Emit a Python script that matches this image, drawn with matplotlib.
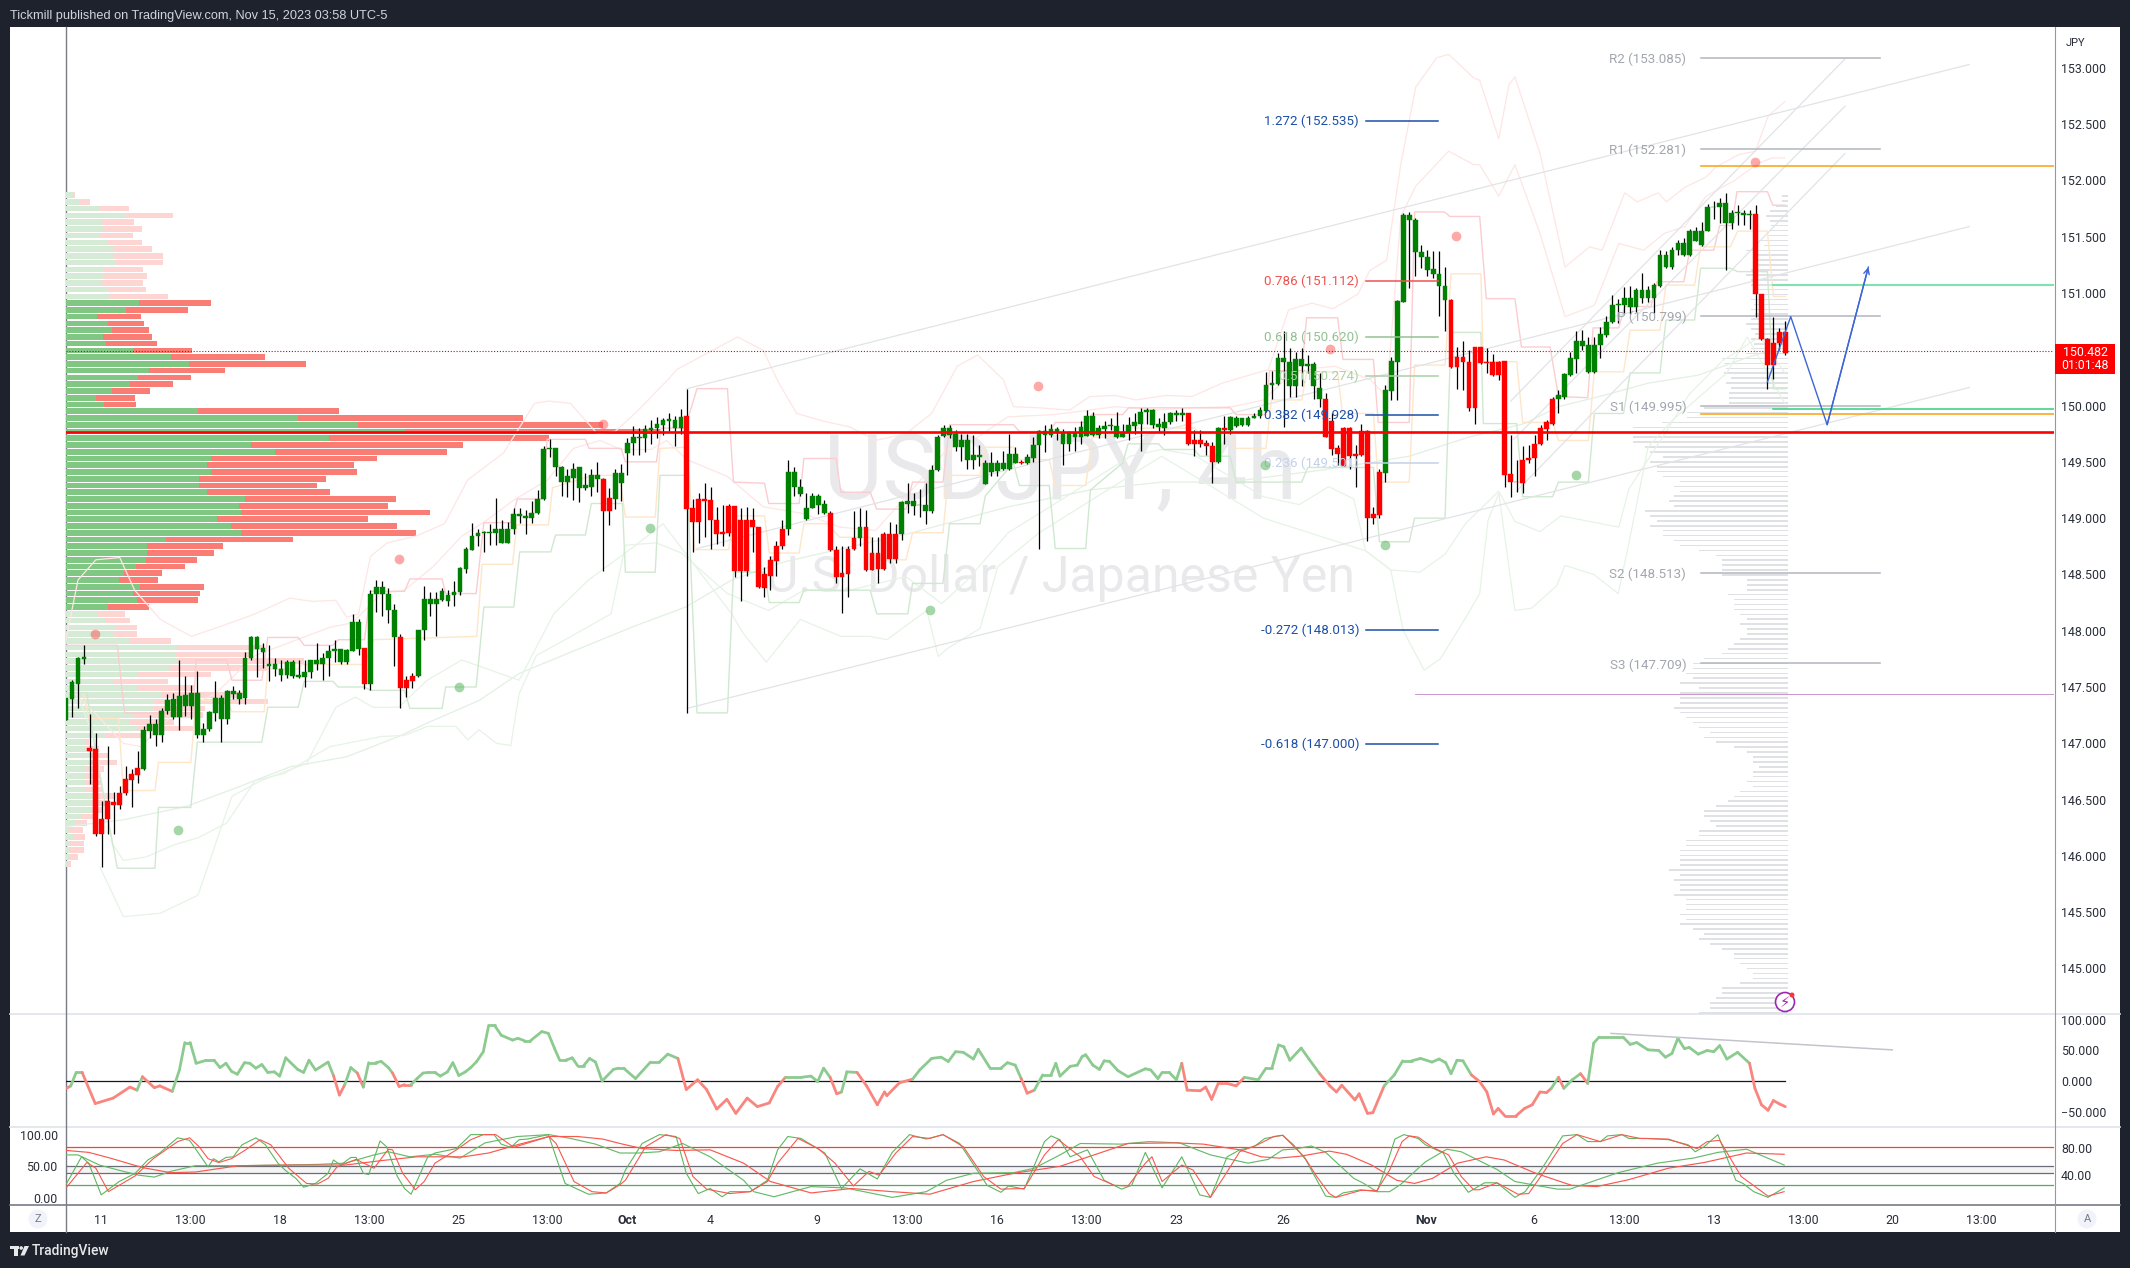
#!/usr/bin/env python3
# USDJPY 4h chart
import numpy as np
import matplotlib
matplotlib.use('Agg')
from matplotlib import pyplot as plt
from matplotlib.collections import LineCollection
from matplotlib.patches import Rectangle, Circle, Polygon

plt.rcParams['font.family'] = ['Roboto', 'DejaVu Sans']

W, H = 2130, 1268

# ---- candles (bar index 0..288)
body_top = [147.40,147.54,147.76,147.77,146.96,146.95,146.33,146.49,146.48,146.56,
146.68,146.73,146.78,147.12,147.17,147.17,147.29,147.38,147.39,147.42,
147.43,147.45,147.45,147.13,147.28,147.40,147.40,147.46,147.46,147.45,
147.76,147.94,147.94,147.85,147.70,147.70,147.66,147.72,147.72,147.61,
147.63,147.74,147.74,147.76,147.82,147.84,147.84,147.83,148.08,148.08,
147.85,148.33,148.39,148.39,148.33,148.18,147.94,147.56,147.60,148.01,
148.28,148.28,148.28,148.35,148.32,148.34,148.56,148.73,148.84,148.87,
148.88,148.88,148.90,148.90,148.90,149.04,149.04,149.02,149.05,149.17,
149.61,149.62,149.62,149.45,149.37,149.44,149.45,149.29,149.38,149.38,
149.35,149.18,149.40,149.40,149.67,149.72,149.72,149.79,149.80,149.84,
149.87,149.88,149.87,149.90,149.91,149.09,149.17,149.17,149.16,148.98,
148.88,149.11,149.11,148.98,148.98,148.98,148.92,148.50,148.63,148.75,
148.90,149.41,149.41,149.28,149.09,149.20,149.20,149.13,149.05,148.72,
148.51,148.73,148.82,148.92,148.92,148.69,148.69,148.86,148.86,148.86,
149.14,149.15,149.15,149.12,149.12,149.43,149.72,149.80,149.80,149.75,
149.69,149.69,149.56,149.56,149.49,149.49,149.49,149.49,149.57,149.57,
149.50,149.54,149.65,149.77,149.77,149.79,149.79,149.76,149.76,149.76,
149.81,149.91,149.91,149.80,149.82,149.83,149.82,149.76,149.83,149.85,
149.94,149.96,149.96,149.84,149.85,149.93,149.93,149.93,149.93,149.69,
149.69,149.67,149.64,149.80,149.80,149.90,149.89,149.89,149.89,149.91,
149.96,150.18,150.20,150.42,150.42,150.39,150.41,150.41,150.37,150.37,
150.16,150.06,149.86,149.62,149.80,149.80,149.57,149.77,149.77,149.04,
149.41,150.14,150.40,150.93,151.69,151.69,151.65,151.36,151.32,151.21,
151.17,151.06,150.94,150.43,150.43,150.39,150.52,150.52,150.39,150.39,
150.39,150.40,149.39,149.32,149.52,149.53,149.66,149.80,149.85,150.06,
150.09,150.28,150.42,150.57,150.57,150.54,150.54,150.64,150.74,150.89,
150.90,150.96,150.96,151.03,151.03,151.03,151.07,151.34,151.34,151.38,
151.44,151.44,151.55,151.55,151.55,151.76,151.76,151.80,151.80,151.71,
151.72,151.71,151.70,151.70,150.99,150.59,150.56,150.65,150.65]

body_bot = [147.21,147.39,147.53,147.75,146.93,146.19,146.19,146.33,146.45,146.45,
146.56,146.67,146.72,146.77,147.11,147.07,147.07,147.29,147.23,147.23,
147.33,147.33,147.07,147.07,147.13,147.27,147.22,147.22,147.44,147.39,
147.40,147.76,147.84,147.81,147.69,147.66,147.61,147.61,147.60,147.59,
147.59,147.63,147.70,147.70,147.76,147.82,147.72,147.72,147.82,147.84,
147.53,147.53,148.33,148.33,148.18,147.94,147.49,147.49,147.55,147.60,
148.01,148.24,148.24,148.27,148.26,148.32,148.34,148.55,148.72,148.84,
148.87,148.87,148.87,148.78,148.78,148.90,149.02,149.00,149.00,149.05,
149.17,149.61,149.45,149.32,149.32,149.36,149.27,149.27,149.28,149.35,
149.06,149.06,149.17,149.31,149.58,149.67,149.71,149.71,149.78,149.80,
149.83,149.86,149.80,149.80,149.08,148.97,148.97,149.15,148.98,148.86,
148.86,148.87,148.53,148.53,148.53,148.92,148.39,148.38,148.49,148.62,
148.75,148.90,149.28,149.21,148.99,149.09,149.12,149.05,148.72,148.48,
148.48,148.50,148.73,148.82,148.54,148.54,148.55,148.55,148.64,148.64,
148.86,149.13,149.11,149.12,149.06,149.06,149.43,149.73,149.74,149.63,
149.63,149.52,149.52,149.54,149.30,149.41,149.42,149.44,149.44,149.49,
149.49,149.49,149.53,149.65,149.74,149.74,149.76,149.66,149.66,149.72,
149.72,149.73,149.74,149.74,149.79,149.82,149.72,149.72,149.76,149.82,
149.84,149.94,149.83,149.81,149.80,149.85,149.92,149.92,149.66,149.66,
149.66,149.64,149.50,149.50,149.78,149.78,149.82,149.83,149.83,149.89,
149.91,149.95,150.18,150.19,150.39,150.17,150.17,150.35,150.35,150.17,
150.06,149.72,149.61,149.57,149.46,149.55,149.55,149.56,149.00,149.00,
149.03,149.40,150.13,150.39,150.92,151.65,151.36,151.32,151.20,151.17,
151.06,150.94,150.34,150.34,150.39,149.98,149.98,150.38,150.38,150.27,
150.27,149.38,149.32,149.32,149.31,149.52,149.53,149.66,149.79,149.84,
150.06,150.08,150.27,150.41,150.53,150.30,150.30,150.54,150.63,150.74,
150.89,150.89,150.88,150.88,150.96,150.96,150.96,151.06,151.23,151.23,
151.38,151.34,151.34,151.46,151.43,151.55,151.76,151.76,151.62,151.62,
151.71,151.69,151.69,150.99,150.59,150.36,150.36,150.56,150.47]

bar_high = [147.40,147.56,147.77,147.87,147.26,147.09,146.49,146.98,146.57,146.62,
146.80,146.77,146.93,147.15,147.25,147.22,147.31,147.44,147.45,147.74,
147.60,147.52,147.64,147.18,147.29,147.55,147.43,147.47,147.51,147.47,
147.81,147.95,147.95,147.89,147.87,147.76,147.74,147.74,147.74,147.74,
147.74,147.74,147.89,147.80,147.87,147.92,147.84,147.84,148.15,148.10,
147.85,148.36,148.45,148.44,148.38,148.24,147.97,147.60,147.62,148.01,
148.40,148.34,148.34,148.38,148.36,148.44,148.57,148.74,148.96,148.90,
148.89,148.95,149.18,148.98,148.97,149.09,149.09,149.07,149.15,149.25,
149.64,149.70,149.62,149.46,149.44,149.49,149.45,149.40,149.44,149.50,
149.36,149.27,149.44,149.48,149.71,149.82,149.80,149.83,149.87,149.90,
149.89,149.93,149.91,149.97,150.15,149.17,149.22,149.31,149.28,149.10,
149.12,149.13,149.11,149.09,149.10,149.09,148.92,148.57,148.66,148.80,
148.98,149.52,149.45,149.35,149.22,149.22,149.21,149.16,149.06,148.75,
148.75,148.75,149.06,149.09,149.07,148.83,148.83,148.88,148.97,148.95,
149.15,149.31,149.22,149.26,149.31,149.47,149.74,149.83,149.83,149.78,
149.75,149.75,149.74,149.65,149.52,149.59,149.52,149.60,149.75,149.63,
149.52,149.57,149.72,149.78,149.83,149.84,149.81,149.79,149.77,149.81,
149.86,149.96,149.94,149.83,149.86,149.89,149.94,149.84,149.90,149.93,
149.98,149.98,149.97,149.89,149.93,149.94,149.96,149.98,149.93,149.78,
149.78,149.69,149.68,149.81,149.91,149.91,149.91,149.89,149.91,149.93,
149.99,150.30,150.31,150.47,150.66,150.51,150.48,150.51,150.45,150.39,
150.29,150.11,149.93,149.65,149.81,149.81,149.65,149.84,149.78,149.10,
149.44,150.18,150.43,150.94,151.71,151.72,151.67,151.43,151.38,151.37,
151.37,151.23,150.95,150.52,150.57,150.49,150.52,150.52,150.51,150.46,
150.40,150.40,149.74,149.52,149.64,149.65,149.74,149.83,149.87,150.08,
150.14,150.29,150.48,150.66,150.67,150.61,150.61,150.70,150.80,150.98,
150.95,151.05,151.06,151.04,151.18,151.06,151.09,151.38,151.37,151.41,
151.47,151.49,151.57,151.59,151.63,151.79,151.82,151.84,151.89,151.74,
151.78,151.74,151.74,151.78,150.99,150.60,150.79,150.69,150.75]

bar_low = [147.21,147.23,147.31,147.70,146.64,146.18,145.90,146.19,146.19,146.42,
146.54,146.43,146.65,146.76,147.05,146.98,147.01,147.26,147.22,147.12,
147.24,147.22,147.05,147.01,147.11,147.20,147.01,147.17,147.39,147.35,
147.35,147.74,147.59,147.67,147.55,147.60,147.55,147.58,147.58,147.58,
147.50,147.58,147.65,147.56,147.60,147.72,147.70,147.70,147.82,147.78,
147.48,147.47,148.17,148.13,148.07,147.69,147.31,147.41,147.49,147.59,
147.92,148.13,147.95,148.26,148.22,148.22,148.32,148.51,148.72,148.75,
148.70,148.76,148.76,148.78,148.78,148.86,148.96,148.86,148.96,149.04,
149.16,149.54,149.37,149.20,149.19,149.16,149.14,149.25,149.20,149.23,
148.53,148.94,149.08,149.15,149.38,149.56,149.56,149.59,149.66,149.71,
149.74,149.77,149.64,149.75,147.27,148.70,148.78,148.83,148.73,148.77,
148.75,148.84,148.48,148.26,148.49,148.70,148.38,148.30,148.36,148.49,
148.73,148.85,149.20,149.20,148.98,149.09,149.04,149.04,148.71,148.42,
148.16,148.30,148.72,148.75,148.53,148.54,148.42,148.54,148.60,148.60,
148.81,149.05,149.03,149.01,148.95,149.05,149.42,149.72,149.71,149.60,
149.51,149.44,149.44,149.46,149.30,149.37,149.37,149.43,149.43,149.49,
149.48,149.48,149.50,148.73,149.59,149.72,149.69,149.47,149.60,149.60,
149.66,149.73,149.73,149.71,149.71,149.78,149.71,149.72,149.69,149.75,
149.60,149.84,149.80,149.77,149.74,149.84,149.86,149.86,149.65,149.55,
149.63,149.56,149.31,149.49,149.66,149.75,149.81,149.82,149.82,149.89,
149.89,149.94,150.06,150.18,149.81,150.08,150.08,150.17,150.29,150.06,
149.99,149.72,149.56,149.47,149.46,149.44,149.28,149.55,148.80,148.95,
149.00,149.32,150.05,150.05,150.92,151.04,151.15,151.22,151.15,151.13,
150.80,150.66,150.33,150.15,150.14,149.95,149.84,150.37,150.29,150.26,
150.23,149.28,149.19,149.23,149.22,149.49,149.37,149.65,149.69,149.83,
149.93,150.06,150.26,150.29,150.49,150.29,150.29,150.42,150.61,150.73,
150.73,150.82,150.81,150.83,150.91,150.92,150.82,151.05,151.22,151.21,
151.34,151.33,151.33,151.46,151.42,151.55,151.66,151.62,151.20,151.57,
151.60,151.60,151.57,150.79,150.58,150.15,150.24,150.49,150.45]

bar_color = 'g'*4 + 'r'*9 + 'g'*37 + 'r' + 'g'*5 + 'r'*3 + 'g'*31 + 'r'*2 + 'g'*12 \
    + 'r'*17 + 'g'*7 + 'r'*5 + 'g' + 'r'*6 + 'g'*20 + 'r' + 'g'*27 + 'r'*5 + 'g' + 'r' + 'g'*16 \
    + 'r'*10 + 'g'*11 + 'r'*18 + 'g'*33 + 'r'*6

last_price = 150.482

# ---- left volume profile, top row first
vp_buy = [15,30,76,132,80,84,76,92,107,105,110,86,84,79,95,97,
163,135,69,93,103,83,89,151,235,275,187,161,143,103,67,85,295,519,654,759,589,415,469,325,
315,325,297,299,315,401,387,393,339,369,391,223,181,181,179,157,129,119,165,149,159,95,
72,87,113,107,141,250,247,252,230,162,105,162,212,197,197,152,142,162,87,42,42,52,57,42,
42,42,42,62,57,57,34,22,10,15,10,10,7,2]
vp_sell = [5,24,65,108,72,86,74,78,85,112,107,86,97,93,84,131,
162,138,99,82,83,109,115,131,211,262,169,119,97,85,87,72,316,505,548,573,493,474,384,371,
330,327,285,263,276,338,334,422,337,372,393,285,171,150,114,109,86,87,144,151,137,91,
60,56,46,52,94,192,165,282,222,163,123,127,180,255,115,155,100,125,80,10,32,45,57,43,
35,38,38,45,35,25,26,25,27,27,30,30,20,10]
vp_dark_rows = (16, 62)

# ---- right session volume profile, top row first
rvp_width = [6,6,12,18,22,18,17,19,19,29,24,42,32,34,34,37,42,37,37,32,29,37,34,37,33,37,42,37,33,37,
34,37,42,66,64,62,64,57,62,57,59,59,59,84,101,101,
126,155,167,155,155,143,138,125,138,131,131,125,108,114,108,114,119,114,143,138,131,138,125,125,114,108,
89,72,66,66,66,66,41,41,41,60,54,54,54,48,41,48,41,41,48,54,60,66,84,95,95,102,95,108,89,108,108,108,
114,108,102,95,89,78,84,72,54,41,35,35,29,35,35,41,35,48,54,60,72,84,84,78,72,89,89,102,102,108,108,108,
108,119,108,114,108,108,114,102,102,102,108,102,108,95,84,89,78,66,54,54,48,41,35,35,48,66,66,72,78,78,89,102]

# ---- stepped channel lines
upper_i = [0,8.6,9.8,21.3,21.8,26.9,27.8,32.8,33.8,38.9,39.9,44.7,45.6,50,51,56.7,57.6,63,63.6,68.7,70,74.5,75.6,79.8,80.6,87,87.6,
93,93.7,98.9,99.7,103.7,105.7,110.8,111.8,117,117.7,122.8,123.6,129,129.8,134.7,135.8,140.7,141.8,146.9,148,158.7,159.7,164.8,165.7,170.8,171.8,177,178,
195,196,201,201.6,207,207.8,213,213.9,219,219.8,225,225.9,230.9,231.8,236.8,237.9,242.7,243.8,248.6,250,254.9,255.8,260.1,261.1,265.5,266.5,271,272,276,277,279,279.9,285,285.9,287.9]
upper_p = [147.87,147.87,147.27,147.27,147.74,147.74,147.56,147.56,147.94,147.94,147.87,147.87,147.92,147.92,148.35,148.35,148.46,148.46,148.33,148.33,148.96,148.96,149.17,149.17,149.70,149.70,149.62,
149.62,149.50,149.50,149.80,149.80,150.15,150.15,149.32,149.31,149.13,149.13,149.53,149.53,149.23,149.23,149.08,149.08,149.32,149.32,149.83,149.83,149.77,149.77,149.85,149.85,149.92,149.92,149.98,
149.98,149.92,149.92,150.31,150.31,150.78,150.78,150.41,150.41,149.85,149.85,151.72,151.72,151.68,151.68,150.95,150.95,150.52,150.52,150.08,150.07,150.69,150.69,150.88,150.88,151.10,151.10,151.38,151.38,151.60,151.60,151.90,151.90,151.78,151.78]

mid_i = [0,2.9,3.8,8.8,9.6,14.9,15.5,20.9,21.8,27,27.8,33.2,33.8,38.9,39.5,50,51.5,68.8,69.7,74.8,75.5,80.8,81.5,88.3,92.7,93.7,98.7,99.5,
104,105.3,111,111.8,117,117.8,122.8,123.6,127.5,129.6,134.7,135.6,140.7,141.8,146.9,147.8,153.1,154,158.7,159.7,164.7,165.7,170.8,171.9,177,177.9,189,189.9,195,195.9,201,201.9,207,207.8,213,213.8,219,219.8,225,225.9,231,232,237,237.4,243,244,249,250,255,256,260.9,262,267,268,272.8,273.8,278.8,280,285,286,288]
mid_p = [147.45,147.45,147.22,147.22,146.58,146.58,146.83,146.83,147.38,147.38,147.28,147.28,147.66,147.66,147.70,147.70,147.92,147.95,148.59,148.59,148.94,148.94,149.27,149.38,149.38,149.01,149.01,149.62,
149.63,148.72,148.72,149.02,149.02,148.69,148.69,148.95,148.95,148.83,148.83,148.63,148.63,148.87,148.87,149.38,149.38,149.63,149.63,149.52,149.52,149.29,149.29,149.72,149.72,149.80,149.80,149.75,149.75,149.62,149.62,150.05,150.05,150.30,150.30,149.93,149.93,149.32,149.32,150.36,150.36,151.17,151.17,150.39,150.39,149.85,149.85,149.69,149.69,150.30,150.30,150.67,150.67,151.07,151.07,151.41,151.41,151.55,151.55,150.97,150.97]

lower_i = [0,3.5,5,8.6,14.9,15.5,20.9,22,32.8,33.8,38.9,39.9,44.7,45.6,50,51,56.7,57.6,63,63.6,68.7,70,75,76,81.2,82,87,88,93.2,93.7,98.7,99.5,104,105.7,110.8,111.8,117,117.8,122.8,123.6,134.7,135.8,141,141.8,146.9,148,153.1,154,158.7,159.7,164.7,165.7,170.8,171.6,177,177.9,183,183.9,189,189.9,195,196,201,202,207,208,213,214,219,220,225,225.9,231,232,237,237.4,243,244,249,250,255,256,260.9,262,267,268,272.8,273.8,278.8,280,285,286,288]
lower_p = [147.45,147.45,146.90,145.89,145.89,146.43,146.43,147.01,147.01,147.32,147.32,147.55,147.55,147.50,147.50,147.47,147.47,147.31,147.31,147.50,147.50,148.21,148.21,148.70,148.70,148.85,148.85,149.13,149.13,148.52,148.52,149.38,149.38,147.27,147.27,148.52,148.52,148.25,148.25,148.36,148.36,148.15,148.15,148.42,148.42,148.95,148.95,149.20,149.49,149.29,149.29,148.73,148.73,149.25,149.49,149.66,149.66,149.61,149.61,149.55,149.55,149.32,149.32,149.32,149.32,149.45,149.45,149.45,149.45,148.79,148.79,149.00,149.00,150.65,150.65,149.84,149.84,149.19,149.19,149.32,149.32,149.93,149.93,150.29,150.29,150.76,150.76,151.22,151.22,151.19,151.19,150.15,150.15]

# ---- faint envelopes
pink_outer_i = [0,2,5,9,11.5,15.8,21,26,31.7,37.5,41.3,45.2,47,49,51,53.8,58.6,63.4,67.3,73.3,78.5,80.8,84.5,89,92,95.7,101,102.3,112.5,116.8,119.4,122.4,127,131.3,135.6,140.7,145,149.3,152.7,157,158.7,163,168.1,171.5,175.8,179.2,184.3,188.6,193.7,201.4,204.8,208.7,212.2,216.4,218.4,221.2,223.6,226.1,229.6,231.6,235.8,236.8,240,241.7,242.7,246.9,251.1,255.2,257.3,261.1,263.2,266.7,268.1,271.2,274.7,276.4,280.2,283,285.1,287.9]
pink_outer_p = [147.92,148.45,148.63,148.65,148.36,148.10,147.95,148.04,148.15,148.29,148.26,148.27,148.12,148.15,148.66,148.78,148.84,148.95,149.34,149.58,150.02,150.04,150.02,149.75,149.77,149.95,150.24,150.32,150.61,150.49,150.20,149.93,149.86,149.81,149.69,149.75,149.93,150.35,150.45,150.23,149.99,149.98,149.96,150.08,150.09,150.05,150.09,150.08,150.20,150.32,150.85,150.91,150.86,150.99,151.20,151.29,152.15,152.83,153.09,153.12,152.91,152.89,152.37,152.85,152.92,152.24,151.23,151.41,151.38,151.89,151.81,151.89,151.81,151.94,152.03,152.12,152.23,152.26,152.57,152.70]

pink_inner_i = [1.4,4.8,9.6,12.5,18.2,25,31.7,44.2,48,52.8,56.7,61.5,66.3,70.2,75,80.7,85,89.5,92.9,98,100.6,104,110.8,116.8,123.6,129.6,135.6,140.7,147.6,152.7,157.8,165.5,171.5,175.8,182.6,188.6,195.4,200.6,204.8,209.1,212.5,218.5,221.2,223.6,226.1,231.6,235.8,236.8,240,242.7,246.9,251.1,256,260.1,264.3,267.7,271.2,274.7,279.5,283.4,285.8,287.9]
pink_inner_p = [147.44,147.27,147.00,146.97,147.27,147.44,147.78,148.03,148.07,148.33,148.36,148.57,148.84,148.97,149.16,149.34,149.62,149.69,149.61,149.61,149.69,149.52,149.37,149.10,149.04,148.92,148.89,149.19,149.61,149.72,149.90,149.92,149.96,149.99,149.96,149.98,149.99,150.05,150.26,150.33,150.35,150.23,150.08,151.68,151.95,152.26,152.14,152.14,151.86,152.14,151.53,150.79,150.89,151.44,151.38,151.53,151.59,151.86,152.00,152.15,152.20,152.20]

green_ma_i = [0,9.6,20.2,28.8,37.5,47,55.7,60.5,69.2,75.9,85.5,95.2,103.8,111.5,120.2,131.7,140.3,157.8,171.5,183.5,194.6,210.8,225,235,244.3,250,256.8,265.1,273.4,281.8,286.8]
green_ma_p = [146.26,146.32,146.44,146.61,146.79,146.88,147.06,147.18,147.38,147.62,147.83,148.04,148.21,148.45,148.61,148.75,148.85,149.10,149.25,149.32,149.32,149.43,149.55,149.72,149.84,149.99,150.08,150.20,150.27,150.43,150.51]

green_inner_i = [1.9,4.8,7.7,9.6,13.4,18.2,22.1,26.9,31.7,36.5,44.2,52.8,56.7,60.5,65.3,67.3,69.2,72.1,74.5,75.9,78.8,83.6,91.3,93.7,98.9,103.1,110.8,117.7,123.6,130.5,140.7,146.7,151,157.8,163,178.3,183.5,189,200.6,206.6,211.5,215.7,217.7,221.9,226.8,231,234.4,240,242.7,246.9,250.4,260.1,261.8,267.7,271.9,277.5,283.7,287.9]
green_inner_p = [147.44,147.03,146.11,145.96,145.99,146.10,146.16,146.29,146.67,146.73,146.97,147.06,147.07,147.15,147.15,147.03,147.12,147.00,146.98,147.44,147.78,147.92,148.15,148.76,148.78,148.69,148.33,148.18,148.36,148.35,148.48,148.24,148.45,148.87,149.04,149.55,149.61,149.56,149.19,149.12,149.28,149.17,148.71,148.54,148.52,148.68,148.95,149.24,148.97,148.88,149.02,148.92,149.26,149.74,150.10,150.40,150.61,150.29]

green_outer_i = [5.7,9.6,15.8,22.1,27.8,32.7,40.3,45.2,48.5,51.4,55.7,60.5,66.3,75.9,81.7,87.5,95.2,100,111.5,113.4,117.3,123,129.8,134.6,137.5,144.2,146.1,147.6,153.1,156.1,163,183.5,200.6,217.7,221.9,224,227.5,230.2,234.4,236.8,238.2,240,242.7,245.5,249.7,251.1,255.9,260,261.8,265,269.1,278.2,281.6,287.9]
green_outer_p = [145.90,145.46,145.49,145.65,146.53,146.67,146.82,147.32,147.41,147.32,147.32,147.56,147.74,147.56,148.15,148.45,148.75,148.95,148.15,147.98,147.72,148.10,147.95,147.95,147.92,148.18,147.77,147.84,148.02,148.57,148.87,149.55,149.00,148.71,148.54,148.00,147.65,147.75,148.11,148.33,148.98,149.22,148.18,148.20,148.40,148.58,148.50,148.33,148.78,149.63,149.87,150.29,150.61,150.02]

# ---- drawn levels
fib_labels = ['1.272 (152.535)','0.786 (151.112)','0.618 (150.620)','0.5 (150.274)','0.382 (149.928)','0.236 (149.501)','-0.272 (148.013)','-0.618 (147.000)']
fib_prices = [152.535,151.112,150.620,150.274,149.928,149.501,148.013,147.000]
fib_colors = ['#1c4fa8','#f0524f','#93c193','#a8d2a4','#1c4fa8','#c3d1ea','#1c4fa8','#1c4fa8']
pivot_labels = ['R2 (153.085)','R1 (152.281)','P (150.799)','S1 (149.995)','S2 (148.513)','S3 (147.709)']
pivot_prices = [153.085,152.281,150.799,149.995,148.513,147.709]

red_dots_i = [4.8,55.7,89.9,162.8,211.8,232.8,282.9]
red_dots_p = [147.97,148.64,149.84,150.17,150.50,151.51,152.16]
green_dots_i = [18.7,65.8,97.8,144.8,200.8,220.9,253]
green_dots_p = [146.23,147.50,148.91,148.18,149.47,148.76,149.38]

path_i = [285,288.9,295,301.9]
path_p = [150.21,150.79,149.83,151.23]

# ---- oscillator
cci_i = [0.1,0.8,1.7,2.7,4.9,7.9,10.7,11.9,12.8,14.8,15.7,17.8,19,19.9,20.8,21.8,23.5,24.8,25.8,26.8,27.7,28.7,29.9,30.8,31.8,32.8,33.8,34.9,35.8,36.8,38.8,39.8,40.7,41.8,43.9,44.8,45.8,46.7,47.7,48.8,49.8,50.7,51.9,52.8,54,54.7,55.8,56.7,57.8,58.8,59.8,60.7,61.8,62.7,63.9,64.8,65.8,66.9,67.8,68.8,69.9,70.8,71.8,72.9,74.8,75.7,76.8,77.8,79.7,80.8,81.8,82.7,83.7,84.8,85.7,86.7,87.7,88.7,89.8,91.7,92.5,93.4,95.4,97.9,99.4,100.8,102.5,103.9,105.8,107.3,109,110.7,112.2,114.1,115.8,117.8,119.2,120.5,123.1,124.8,125.9,126.9,128,129.1,129.9,130.8,132.5,134.1,135.9,137.1,137.5,139.6,141.8,143,145,146.6,147.8,149,150.3,152,152.8,154.8,156.6,157.7,159,160,161,162.2,163.6,165,165.8,166.5,168.2,169.4,170.2,170.8,172,173.1,173.9,174.8,176.2,177.9,180.8,181.7,182.9,183.6,184.8,186,186.9,187.8,190,190.9,191.9,193,194.5,196,197.4,199.7,201,202,203.1,204,205,206.9,208.2,210,211.7,212.8,213.7,215.9,216.6,218,218.9,220.8,222.5,223.9,225.4,226.9,228.8,230,231.1,232,233,234,235.4,236.8,238,239.1,239.9,241,242.9,244.3,245.6,246.9,248,248.8,250,250.9,252.3,253.7,254.9,255.9,256.8,260.8,262,263.1,265,266.8,267.9,269,270,271.1,271.9,273.4,274.9,276,277,278.2,280,282,282.9,284,285.1,286,287.1,288]
cci_v = [-12,-8,14,14,-37,-28,-10,-15,7,-11,-8,-17,18,63,63,29,34,34,22,29,16,11,30,29,21,27,14,15,8,38,19,14,34,18,31,9,-23,-6,22,13,-10,30,30,32,22,13,-9,-6,-6,4,13,14,14,8,15,30,9,15,22,32,48,91,91,75,67,70,66,66,81,78,54,34,34,38,25,25,37,31,0,19,21,21,4,31,31,44,37,-14,2,-14,-46,-30,-53,-28,-42,-36,-9,6,6,8,-1,21,6,-21,-18,15,14,-8,-39,-18,-24,-3,3,18,37,39,32,48,47,36,52,21,21,30,26,4,-20,-15,10,10,29,8,24,26,40,43,26,19,33,32,17,7,20,18,4,14,14,2,29,-15,-16,-10,-30,-4,-4,-8,6,2,21,21,59,56,34,54,36,12,-8,-18,-7,-31,-21,-53,-52,-8,10,33,33,37,31,36,30,12,34,33,10,-1,-18,-54,-45,-57,-57,-45,-39,-18,-19,-12,6,-12,2,12,-4,62,72,72,60,63,51,50,39,45,70,53,55,44,50,48,58,36,47,29,-12,-39,-48,-32,-38,-42]
cci_red_spans = [(0,0.8),(2.7,11.9),(12.8,17.8),(44.8,46.7),(48.8,49.8),(54.7,57.8),(102.5,120.5),(128,129.9),(132.5,141.8),(160,162.2),(186.9,197.4),(210,220.8),(235.4,248.8),(250,250.9),(253.7,254.9),(282,288.5)]

# ---- stochastics
stk_k_i = [0.1,2.6,3.8,5.9,8.9,11.6,13.7,15.7,18.7,20.7,23.8,24.7,25.6,26.8,28,29.5,31.8,33.4,35.5,36.7,38.5,39.8,41.8,43.9,44.8,46,47.7,48.6,49.8,50.7,52.6,53.7,55.5,56.7,57.8,60.6,61.8,65.4,67.8,71.7,72.9,74.5,75.9,77.3,80.8,83.6,87.5,90.5,92.8,93.7,96.5,99.4,102.2,103.9,105.9,107.9,109.9,111.2,114.6,117.5,119.2,120.9,123.1,127.1,129.9,133,135.9,138.4,141.3,144.1,146.9,149.7,154.3,156.6,157.9,160.5,163.9,165,166.5,168.2,171.1,173.9,176.8,178.5,180.8,183.6,186.9,189.9,191.7,194.5,196.6,199,200.8,203.8,205.6,207.7,208.9,211,212.7,213.9,216.9,219.6,221.1,222.6,224.1,226.5,227.7,230.7,232.5,234.9,237.6,239.7,242.7,244.4,247.4,250.7,253.1,254.9,257,258.2,260.6,261.8,264.8,268.4,271.7,272.9,274.4,276.7,279.7,280.9,282.7,285.1,287.8]
stk_k_v = [23,65,55,5,26,39,60,71,95,91,49,62,57,64,65,84,95,84,55,44,31,17,23,39,60,52,64,64,39,37,90,81,34,15,6,65,71,78,100,100,85,80,92,93,100,23,6,8,23,44,86,100,97,39,7,15,2,10,10,28,76,97,94,71,15,46,30,72,100,93,100,86,20,9,19,14,89,98,92,65,76,28,14,20,72,16,65,5,1,65,76,81,94,99,84,60,39,3,1,8,13,10,49,93,100,94,84,71,39,9,24,24,1,10,49,98,100,89,89,98,100,94,94,92,84,73,81,100,28,23,10,1,16]
stk_d_i = [0.1,3.5,5,7.1,11.6,14.6,18.7,20.7,22.3,23.8,25.6,27.7,30.1,32.5,34.3,37.3,40.3,42.1,43.9,45.4,48.6,51.6,54,54.7,56.4,58.5,60,61.8,65.4,67.8,69.9,72,75,80.9,82.1,85.1,88.1,90.5,92.8,93.7,97.1,100.5,102.8,105,107.3,111.2,114.6,117.5,119.2,122.6,126,128.8,131.9,134.5,136.2,139,141.8,144.7,146.9,150.3,153.7,156.6,160.5,163.9,166.2,169.9,172.2,175.6,177.9,180.8,181.9,183.6,186.9,188.8,191.7,194,196.6,199.6,202.3,203.8,207.4,209.5,211.6,212.7,216.9,219.6,221.7,223.8,225,226.5,228.9,231.6,233.7,235.8,236.7,239.7,243.2,245,247.4,250.7,253.1,257,260.6,263.6,268.4,273.2,274.9,277,280.6,285.1,287.8]
stk_d_v = [17,56,47,10,35,62,89,95,81,62,56,62,76,92,84,47,23,22,31,49,61,47,77,76,39,13,26,55,76,92,100,100,80,97,86,26,10,8,21,28,81,100,94,34,14,7,10,26,55,94,78,55,19,42,36,71,97,94,100,81,34,14,15,68,92,65,34,20,19,55,65,26,52,44,1,34,73,84,97,99,65,34,7,1,12,12,44,89,98,96,80,68,34,13,13,24,6,7,39,86,100,89,100,94,93,78,89,91,34,3,10]
stk_slow_g_i = [0.1,2,5.6,9.2,12.2,14.8,17.5,21.7,28.9,36.1,42.1,46.8,51.6,54,57.6,61.8,66,70.2,75.6,80.9,84.5,88.7,92.8,96,99.4,103.3,107.9,113.5,115.2,118.6,124.8,130.5,138.4,144.1,147.5,152,158.8,162.2,166.5,169.9,176.8,181.4,186.5,191.7,198,201.4,203.8,205.6,208.6,211,215.7,217.2,219.6,221.7,223.5,227.7,231.3,233.7,239.7,242.7,247.4,249.8,251.9,260,266.6,272.6,276.7,281.5,287.8]
stk_slow_g_v = [68,68,52,43,36,33,42,51,51,52,53,55,68,73,65,69,63,87,97,100,94,85,71,71,73,86,65,28,10,2,18,16,1,10,28,39,40,47,68,86,85,89,87,68,55,61,76,77,82,72,31,24,10,10,21,57,77,73,45,26,18,14,14,40,55,63,72,77,52]
stk_slow_r_i = [0.1,3.8,7.4,12.8,17.5,21.7,28.9,37.9,46.8,52.8,58.8,66.6,70.8,75.6,80.9,85.7,89.9,92.8,96.5,102.2,107.9,113.5,118,124.8,131.6,138.4,144.7,152,158.8,166.5,172.2,177.9,185.9,190.5,196.6,200.2,203.2,206.8,211.6,214.5,218.7,222.9,225.9,228.9,233.1,237.9,240.9,246.2,252.2,256.4,261.8,268.4,274.4,281.5,287.8]
stk_slow_r_v = [75,72,63,48,40,41,51,52,52,59,65,65,71,84,97,97,93,86,78,75,76,55,26,8,15,10,6,26,39,50,68,86,87,85,76,65,63,66,74,69,52,28,23,31,55,65,60,39,20,18,29,47,56,71,69]
cci_trend_i = [258.8,305.9]
cci_trend_v = [78,51]

tick_pos = [5.8,20.8,35.8,50.8,65.8,80.7,94,107.9,125.8,140.9,155.9,170.9,185.9,203.9,227.9,245.8,261,276,291,305.9,320.9]
tick_lab = ['11','13:00','18','13:00','25','13:00','Oct','4','9','13:00','16','13:00','23','26','Nov','6','13:00','13','13:00','20','13:00']
price_ticks = [153,152.5,152,151.5,151,150,149.5,149,148.5,148,147.5,147,146.5,146,145.5,145]

DARK = '#1e222d'
TXT = '#2a2e39'


def new_ax(x0, y0, x1, y1, **kw):
    a = fig.add_axes([x0/W, 1-y1/H, (x1-x0)/W, (y1-y0)/H], **kw)
    a.patch.set_alpha(0)
    for s in a.spines.values():
        s.set_visible(False)
    return a


fig = plt.figure(figsize=(W/100, H/100), dpi=100, facecolor=DARK)

# page chrome, in pixels
bg = fig.add_axes([0, 0, 1, 1], zorder=0)
bg.set_xlim(0, W)
bg.set_ylim(H, 0)
bg.axis('off')
bg.add_patch(Rectangle((10, 27), 2110, 1205, fc='white', ec='none'))
for yy in (1014, 1126.7):
    bg.plot([10, 2120], [yy, yy], color='#e0e3eb', lw=1.2)
bg.plot([10, 2120], [1205.3, 1205.3], color='#787b86', lw=1.2)
bg.plot([65.6, 65.6], [27, 1232], color='#787b86', lw=1)
bg.plot([2054.5, 2054.5], [27, 1232], color='#9598a1', lw=0.8)
bg.text(10, 16.5, 'Tickmill published on TradingView.com, Nov 15, 2023 03:58 UTC-5',
        color='#d1d4dc', fontsize=9.2, family=['Liberation Sans'], va='center')
bg.text(2076, 43.5, 'JPY', color=TXT, fontsize=8, ha='center', va='center')
bg.add_patch(Circle((38, 1219), 9.5, fc='#f0f3fa', ec='none'))
bg.text(38, 1219, 'Z', color='#787b86', fontsize=8, ha='center', va='center')
bg.add_patch(Circle((2087, 1219), 9.5, fc='#f0f3fa', ec='none'))
bg.text(2087, 1219, 'A', color='#787b86', fontsize=8, ha='center', va='center')
# TV logo
bg.add_patch(Rectangle((10, 1246), 9, 3.4, fc='#e8e8ea', ec='none'))
bg.add_patch(Rectangle((14, 1246), 3.6, 9.5, fc='#e8e8ea', ec='none'))
bg.add_patch(Circle((21.2, 1248), 1.8, fc='#e8e8ea', ec='none'))
bg.add_patch(Polygon([(24.5, 1246), (29, 1246), (24.5, 1255.5), (20.5, 1255.5)], fc='#e8e8ea', ec='none'))
bg.text(32, 1251.5, 'TradingView', color='#e8e8ea', fontsize=9.9, va='center', weight='medium')

# ---- main pane
ax = new_ax(66, 27, 2054, 1014, zorder=2)
ax.set_xlim(0, 333)
ax.set_ylim(144.595, 153.363)
bars = np.arange(len(body_top))

ax.text(166.5, 149.40, 'USDJPY, 4h', color='#787b86', alpha=0.16, fontsize=65, ha='center', va='center', zorder=0)
ax.text(166.5, 148.47, 'U.S. Dollar / Japanese Yen', color='#787b86', alpha=0.16, fontsize=36, ha='center', va='center', zorder=0)

# left profile
vp_price = np.linspace(151.87, 145.93, len(vp_buy))
vp_scale = 1/(2.24*5.97)
buy = np.array(vp_buy)*vp_scale
sell = np.array(vp_sell)*vp_scale
dark = np.zeros(len(buy), dtype=bool)
dark[vp_dark_rows[0]:vp_dark_rows[1]] = True
ax.barh(vp_price, buy, height=0.05, color=['#81c784' if d else '#d5ebd6' for d in dark], lw=0, zorder=1)
ax.barh(vp_price, sell, left=buy, height=0.05, color=['#f97d75' if d else '#fdd5d2' for d in dark], lw=0, zorder=1)

# right profile
rvp_price = 151.86 - 0.0437*np.arange(len(rvp_width))
rw = np.array(rvp_width)/5.97
ax.barh(rvp_price, rw, left=288.4-rw, height=0.014, color='#e0e1e5', lw=0, zorder=1)

# envelopes and steps
ax.plot(pink_outer_i, pink_outer_p, color='#fee6e4', lw=0.9, zorder=2)
ax.plot(pink_inner_i, pink_inner_p, color='#fee6e4', lw=0.9, zorder=2)
ax.plot(green_ma_i, green_ma_p, color='#e2f0e2', lw=0.9, zorder=2)
ax.plot(green_inner_i, green_inner_p, color='#e6f3e6', lw=0.9, zorder=2)
ax.plot(green_outer_i, green_outer_p, color='#e6f3e6', lw=0.9, zorder=2)
ax.plot(upper_i, upper_p, color='#fbcdd1', lw=1, zorder=2)
ax.plot(mid_i, mid_p, color='#fee6c9', lw=1, zorder=2)
ax.plot(lower_i, lower_p, color='#d0e8d0', lw=1, zorder=2)

# trend lines
gray = '#e2e3e6'
ax.plot([104, 318.8], [147.31, 150.16], color=gray, lw=0.9, zorder=2.5)
ax.plot([104, 318.8], [150.15, 153.03], color=gray, lw=0.9, zorder=2.5)
ax.plot([105.7, 318.8], [148.73, 151.59], color=gray, lw=0.9, zorder=2.5)
ax.plot([242, 298], [150.04, 153.08], color=gray, lw=0.9, zorder=2.5)
ax.plot([242.5, 298], [149.70, 152.66], color=gray, lw=0.9, zorder=2.5)
ax.plot([243, 298], [149.24, 152.24], color=gray, lw=0.9, zorder=2.5)
ax.plot([225.9, 333], [147.44, 147.44], color='#b36abb', lw=0.5, zorder=2.5)

# fib and pivots
for lab, p, c in zip(fib_labels, fib_prices, fib_colors):
    ax.plot([217.8, 229.9], [p-0.008, p-0.008], color=c, lw=1.1, zorder=4)
    ax.text(216.6, p-0.012, lab, color=c, fontsize=9.6, ha='right', va='center', zorder=4)
for lab, p in zip(pivot_labels, pivot_prices):
    ax.plot([273.9, 303.9], [p, p], color='#b2b5be', lw=1.1, zorder=2.6)
    ax.text(271.4, p-0.012, lab, color='#a3a6af', fontsize=9.6, ha='right', va='center', zorder=4)

# candles
colors = ['#008000' if c == 'g' else '#ff0000' for c in bar_color]
ax.vlines(bars, bar_low, bar_high, color='black', lw=0.9, zorder=3)
ax.bar(bars, np.array(body_top)-np.array(body_bot), bottom=body_bot, width=0.8,
       color=colors, edgecolor=colors, lw=0.3, zorder=3.2)

# levels on top of the candles
ax.plot([0, 333], [149.767, 149.767], color='#ff0000', lw=1.9, zorder=6)
ax.plot([0, 333], [last_price, last_price], color='#e00000', lw=0.8, ls=(0, (1, 1.6)), zorder=6)
ax.plot([273.9, 333], [152.129, 152.129], color='#f9a825', lw=1.2, zorder=5)
ax.plot([273.9, 333], [149.923, 149.923], color='#f9a825', lw=1.2, zorder=5)
ax.plot([286, 333], [151.07, 151.07], color='#7fe3b0', lw=1.5, zorder=5)
ax.plot([286, 333], [149.967, 149.967], color='#33d17a', lw=1.1, zorder=5)

ax.plot(red_dots_i, red_dots_p, 'o', color='#ff5252', alpha=0.5, ms=7, mew=0, zorder=5)
ax.plot(green_dots_i, green_dots_p, 'o', color='#4caf50', alpha=0.5, ms=7, mew=0, zorder=5)

ax.plot(path_i, path_p, color='#3d66d6', lw=1, zorder=6)
ax.annotate('', xy=(path_i[3], path_p[3]), xytext=(path_i[2], path_p[2]),
            arrowprops=dict(arrowstyle='->', color='#3d66d6', lw=1, shrinkA=0, shrinkB=0), zorder=6)

ax.set_xticks([])
ax.yaxis.tick_right()
ax.set_yticks(price_ticks)
ax.set_yticklabels(['%.3f' % p for p in price_ticks], fontsize=8.9, color=TXT)
ax.tick_params(axis='y', length=0, pad=5)

# last price box + lightning badge, in pixels
over = fig.add_axes([0, 0, 1, 1], zorder=5)
over.set_xlim(0, W)
over.set_ylim(H, 0)
over.axis('off')
over.add_patch(Rectangle((2055, 344), 60, 30, fc='#ff0000', ec='none'))
over.text(2085, 352, '150.482', color='white', fontsize=8.9, ha='center', va='center')
over.text(2085, 365.5, '01:01:48', color='white', fontsize=8.9, ha='center', va='center')
over.add_patch(Circle((1785, 1002), 9.5, fc='white', ec='#9c27b0', lw=1.2))
over.text(1785, 1002, '\u26a1', color='#9c27b0', fontsize=10.5, ha='center', va='center', family=['DejaVu Sans'])
over.add_patch(Circle((1792, 995), 2.5, fc='#f23645', ec='none'))

# ---- oscillator pane
ax2 = new_ax(66, 1014.3, 2054, 1126.7, zorder=2)
ax2.set_xlim(0, 333)
ax2.set_ylim(-74.9, 109.3)
ax2.plot([0, 288], [0, 0], color='#131722', lw=0.9, zorder=1)
segs, seg_cols = [], []
for k in range(len(cci_i)-1):
    segs.append([(cci_i[k], cci_v[k]), (cci_i[k+1], cci_v[k+1])])
    is_red = any(a <= cci_i[k] < b for a, b in cci_red_spans)
    seg_cols.append('#f9867e' if is_red else '#8ccb8f')
ax2.add_collection(LineCollection(segs, colors=seg_cols, linewidths=2, capstyle='round', zorder=2))
ax2.plot(cci_trend_i, cci_trend_v, color='#c3c5cc', lw=1.1, zorder=3)
ax2.set_xticks([])
ax2.yaxis.tick_right()
ax2.set_yticks([100, 50, 0, -50])
ax2.set_yticklabels(['100.000', '50.000', '0.000', '\u221250.000'], fontsize=8.9, color=TXT)
ax2.tick_params(axis='y', length=0, pad=5)

# ---- stochastic pane
ax3 = new_ax(66, 1126.7, 2054, 1205.3, zorder=2)
ax3.set_xlim(0, 333)
ax3.set_ylim(-11.5, 112.5)
ax3.axhspan(40, 50, color='#9598a1', alpha=0.1, lw=0)
ax3.axhline(50, color='#6a6d78', lw=0.9)
ax3.axhline(40, color='#6a6d78', lw=0.9)
ax3.axhline(80, color='#f44336', lw=0.9)
ax3.axhline(20, color='#4caf50', lw=0.9)
ax3.plot(stk_slow_g_i, stk_slow_g_v, color='#66bb6a', lw=0.85)
ax3.plot(stk_slow_r_i, stk_slow_r_v, color='#f9584f', lw=0.85)
ax3.plot(stk_k_i, stk_k_v, color='#5cb660', lw=0.8)
ax3.plot(stk_d_i, stk_d_v, color='#f9584f', lw=0.8)
ax3.set_xticks(tick_pos)
ax3.set_xticklabels(tick_lab, fontsize=8.9, color=TXT)
ax3.tick_params(axis='x', length=0, pad=6)
for t in ax3.get_xticklabels():
    if t.get_text() in ('Oct', 'Nov'):
        t.set_fontweight('bold')
ax3.set_yticks([100, 50, 0])
ax3.set_yticklabels(['100.00', '50.00', '0.00'], fontsize=8.9, color=TXT)
ax3.tick_params(axis='y', length=0, pad=6)
ax3r = ax3.twinx()
ax3r.patch.set_alpha(0)
for s in ax3r.spines.values():
    s.set_visible(False)
ax3r.set_ylim(-11.5, 112.5)
ax3r.set_yticks([79, 36])
ax3r.set_yticklabels(['80.00', '40.00'], fontsize=8.9, color=TXT)
ax3r.tick_params(axis='y', length=0, pad=5)

fig.savefig('out.png', dpi=100, facecolor=DARK)
